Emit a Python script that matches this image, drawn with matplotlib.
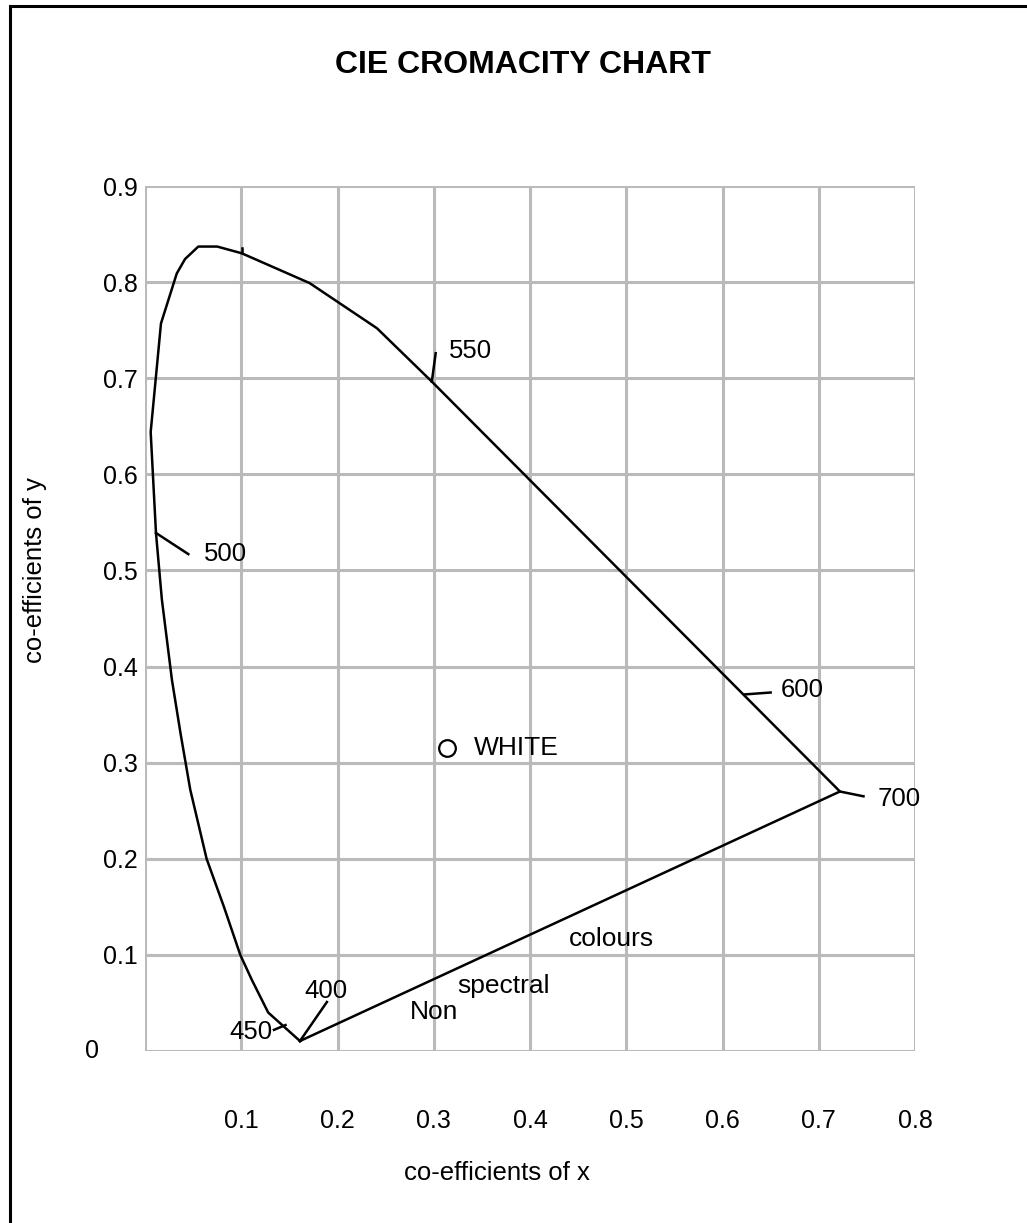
import matplotlib.pyplot as plt
from matplotlib.patches import Rectangle

plt.rcParams['font.family'] = ['Liberation Sans', 'DejaVu Sans']

# spectral locus as drawn (x, y), going from 400 round to 700 and back
locus_x = [0.161, 0.128, 0.111, 0.099, 0.082, 0.064, 0.047, 0.037, 0.028, 0.0175,
           0.0114, 0.0059, 0.0166, 0.033, 0.0416, 0.0554, 0.075, 0.1005, 0.171,
           0.241, 0.298, 0.722, 0.161]
locus_y = [0.0104, 0.040, 0.074, 0.100, 0.150, 0.200, 0.272, 0.330, 0.386, 0.470,
           0.539, 0.644, 0.757, 0.809, 0.824, 0.837, 0.837, 0.830, 0.799,
           0.752, 0.6965, 0.270, 0.0104]

# wavelength marks: point on the curve, end of tick, label position
wl_labels = ['450', '400', '500', '550', '600', '700']
wl_pt = [(0.146, 0.027), (0.161, 0.0104), (0.0114, 0.539), (0.298, 0.6965),
         (0.623, 0.371), (0.722, 0.270)]
wl_end = [(0.134, 0.022), (0.189, 0.051), (0.045, 0.517), (0.302, 0.726),
          (0.650, 0.373), (0.7465, 0.265)]
wl_text = [(0.088, 0.020), (0.166, 0.062), (0.0613, 0.517), (0.316, 0.728),
           (0.660, 0.376), (0.7616, 0.262)]

white_pt = (0.3134, 0.315)
purple_words = ['Non', 'spectral', 'colours']
purple_pos = [(0.300, 0.041), (0.372, 0.068), (0.485, 0.117)]

xticks = [0.1, 0.2, 0.3, 0.4, 0.5, 0.6, 0.7, 0.8]
yticks = [0.1, 0.2, 0.3, 0.4, 0.5, 0.6, 0.7, 0.8, 0.9]

fig = plt.figure(figsize=(10.27, 12.23), dpi=100)
ax = fig.add_axes([145 / 1027, 1 - 1051 / 1223, 770 / 1027, 865 / 1223])
ax.set_xlim(0, 0.8)
ax.set_ylim(0, 0.9)

grid_col = '#bababa'
for v in [0] + xticks:
    ax.axvline(v, color=grid_col, lw=2.2, zorder=1)
for v in [0] + yticks:
    ax.axhline(v, color=grid_col, lw=2.2, zorder=1)
for s in ax.spines.values():
    s.set_visible(False)

ax.set_xticks(xticks)
ax.set_xticklabels([f'{t:.1f}' for t in xticks])
ax.set_yticks(yticks)
ax.set_yticklabels([f'{t:.1f}' for t in yticks])
ax.tick_params(length=0, labelsize=18)
ax.tick_params(axis='x', pad=42)
ax.tick_params(axis='y', pad=5)
ax.annotate('0', xy=(0, 0), xycoords=ax.get_yaxis_transform(), xytext=(-38, 0),
            textcoords='offset points', ha='center', va='center', fontsize=18)

ax.plot(locus_x, locus_y, color='black', lw=1.8, zorder=3, clip_on=False)
# small nick on the curve near x = 0.1
ax.plot([0.1005, 0.1005], [0.830, 0.835], color='black', lw=1.8, zorder=3)

for lab, p, e, t in zip(wl_labels, wl_pt, wl_end, wl_text):
    ax.plot([p[0], e[0]], [p[1], e[1]], color='black', lw=1.8, zorder=3)
    ax.text(t[0], t[1], lab, fontsize=18.5, ha='left', va='center', zorder=4)

ax.plot(*white_pt, 'o', ms=12, mfc='white', mec='black', mew=1.6, zorder=4)
ax.text(0.342, 0.315, 'WHITE', fontsize=19, ha='left', va='center', zorder=4)

for w, (px, py) in zip(purple_words, purple_pos):
    ax.text(px, py, w, fontsize=19, ha='center', va='center', zorder=4)

fig.text(523 / 1027, 1 - 65 / 1223, 'CIE CROMACITY CHART', fontsize=23,
         fontweight='bold', ha='center', va='center')
fig.text(497 / 1027, 1 - 1173 / 1223, 'co-efficients of x', fontsize=18.5,
         ha='center', va='center')
fig.text(35 / 1027, 1 - 570 / 1223, 'co-efficients of y', fontsize=18.5,
         ha='center', va='center', rotation=90)

fig.patches.append(Rectangle((10 / 1027, -0.1), 2, 1 - 6 / 1223 + 0.1,
                             transform=fig.transFigure, fill=False,
                             edgecolor='black', lw=2.2))

fig.savefig('out.png', dpi=100)
